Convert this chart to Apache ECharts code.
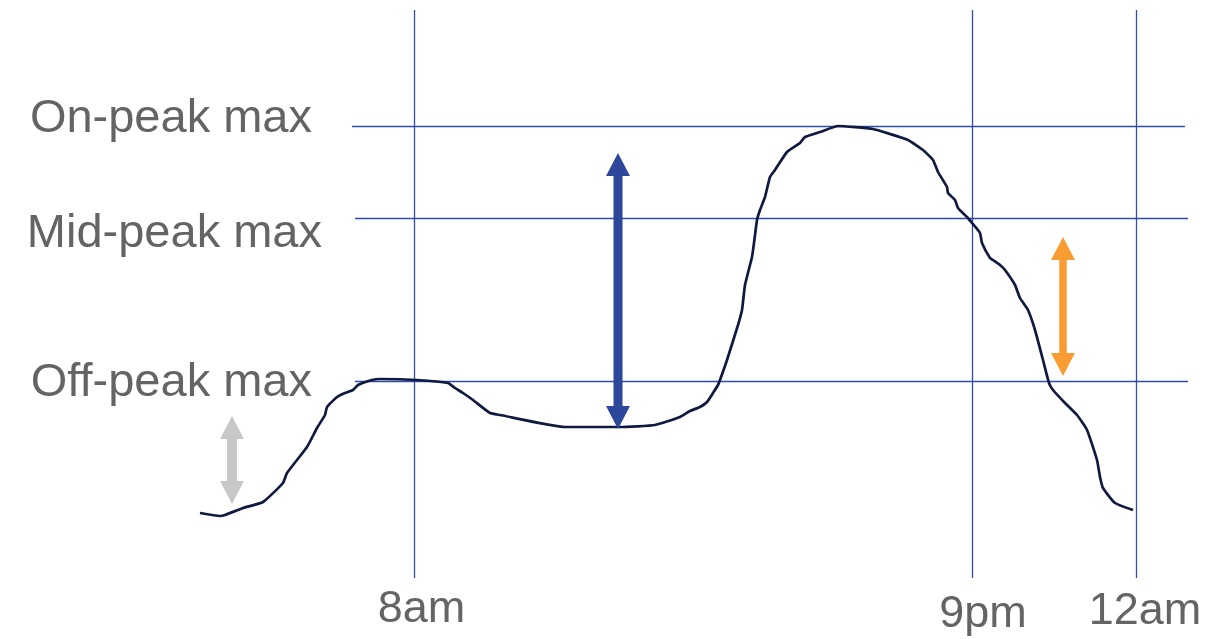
<!DOCTYPE html>
<html>
<head>
<meta charset="utf-8">
<script src="https://cdn.jsdelivr.net/npm/echarts@6/dist/echarts.min.js"></script>
<style>
html,body{margin:0;padding:0;background:#fff;}
#c{width:1230px;height:639px;}
</style>
</head>
<body>
<div id="c"></div>
<script>
// x: relative position across the day (schematic), y: load level (arbitrary units)
var loadCurve = [
[0.0,6.5],[2.0,6.2],[2.5,6.3],[4.3,7.0],[6.3,7.6],[8.3,9.5],[8.7,10.5],[10.7,13.1],[11.7,15.0],[12.5,16.3],
[12.7,17.1],[13.7,18.1],[14.5,18.5],[15.3,18.8],[15.8,19.3],[17.2,19.8],[18.0,19.9],[21.7,19.8],[24.8,19.5],
[25.5,19.0],[26.3,18.5],[27.3,17.8],[29.0,16.5],[30.0,16.3],[36.5,15.1],[42.0,15.1],[45.5,15.3],[48.0,16.1],
[49.0,16.7],[50.0,17.1],[50.7,17.6],[51.3,18.5],[51.8,19.3],[52.0,19.8],[52.7,21.8],[53.8,25.3],[54.2,26.8],
[54.5,29.3],[55.2,32.1],[55.4,33.5],[55.7,35.8],[56.0,36.8],[56.5,38.1],[57.0,40.1],[57.5,40.8],[58.7,42.6],
[60.0,43.5],[60.5,44.1],[62.0,44.6],[63.8,45.2],[67.3,44.9],[69.0,44.4],[70.8,43.8],[72.3,42.8],[73.3,41.8],
[73.8,40.6],[74.7,39.1],[74.8,38.5],[75.5,37.8],[75.8,37.0],[76.7,36.1],[77.2,35.5],[78.0,34.5],[78.2,33.5],
[79.0,32.0],[79.3,31.8],[80.0,31.3],[80.5,30.8],[81.5,29.3],[82.0,28.0],[82.8,26.8],[83.5,24.8],[84.3,21.8],
[84.9,19.5],[85.3,18.8],[86.5,17.5],[87.7,16.3],[88.7,14.8],[89.7,11.8],[90.0,10.1],[90.3,9.0],[91.5,7.5],[93.3,6.8]
];
var levelNames = ["On-peak max", "Mid-peak max", "Off-peak max"];
var levelValues = [45.2, 36.0, 19.7];
var levelLineFrom = [15.2, 15.5, 15.5];
var levelLineTo = [98.5, 98.8, 98.8];
var timeLabels = ["8am", "9pm", "12am"];
var timePositions = [21.4, 77.2, 93.6];
// arrows: [x, top, bottom]
var arrowData = [
[3.2, 16.2, 7.4],
[41.8, 42.5, 14.9],
[86.3, 34.1, 20.2]
];

var arrowColors = ["#C8C8C8", "#2D479B", "#F99D32"];
var arrowShaft = [10, 9, 7.5];
var lineColor = "#2F4CA8";
var textColor = "#646464";
var fontFam = "'Liberation Sans', Arial, sans-serif";

var chart = echarts.init(document.getElementById('c'), null, {renderer:'canvas'});

var hLines = levelValues.map(function(v,i){
  return [{coord:[levelLineFrom[i], v]}, {coord:[levelLineTo[i], v]}];
});
var vLines = timePositions.map(function(x){ return {xAxis:x}; });

chart.setOption({
  animation:false,
  grid:{left:200, right:40, top:10, bottom:61, containLabel:false},
  xAxis:{type:'value', min:0, max:99, show:false, splitLine:{show:false}},
  yAxis:{type:'value', min:0, max:56.8, show:false, splitLine:{show:false}},
  series:[
    {
      type:'line', data:[], silent:true, clip:false,
      markLine:{
        silent:true, symbol:'none', animation:false,
        label:{show:false},
        lineStyle:{color:lineColor, width:1.3, type:'solid'},
        emphasis:{disabled:true},
        data: hLines.concat(vLines)
      }
    },
    {
      type:'line', data:loadCurve, showSymbol:false, smooth:0.15, clip:false,
      lineStyle:{color:'#0E1A3F', width:2.7},
      z:5
    },
    {
      type:'custom', data:arrowData, clip:false, z:6,
      renderItem:function(params, api){
        var i = params.dataIndex;
        var top = api.coord([api.value(0), api.value(1)]);
        var bot = api.coord([api.value(0), api.value(2)]);
        var cx = top[0], ty = top[1], by = bot[1];
        var w = arrowShaft[i]/2, hw = 12, hl = 23;
        var pts = [[cx,ty],[cx+hw,ty+hl],[cx+w,ty+hl],[cx+w,by-hl],[cx+hw,by-hl],[cx,by],
                   [cx-hw,by-hl],[cx-w,by-hl],[cx-w,ty+hl],[cx-hw,ty+hl]];
        return {type:'polygon', shape:{points:pts}, style:{fill:arrowColors[i]}};
      }
    }
  ]
});

// text labels, positioned from the axes
var leftRight = [312, 322, 312];
var leftDy = [-6.5, 16.5, 2];
var botDx = [7.5, 11, 9];
var botY = [610, 615, 611.5];
var g = [];
levelValues.forEach(function(v,i){
  var py = chart.convertToPixel({gridIndex:0}, [0, v])[1];
  g.push({type:'text', x:leftRight[i], y:py + leftDy[i], silent:true,
    style:{text:levelNames[i], fill:textColor, font:'47px ' + fontFam, align:'right', verticalAlign:'middle'}});
});
timePositions.forEach(function(x,i){
  var px = chart.convertToPixel({gridIndex:0}, [x, 0])[0];
  g.push({type:'text', x:px + botDx[i], y:botY[i], silent:true,
    style:{text:timeLabels[i], fill:textColor, font:'45px ' + fontFam, align:'center', verticalAlign:'middle'}});
});
chart.setOption({graphic:g});
</script>
</body>
</html>
